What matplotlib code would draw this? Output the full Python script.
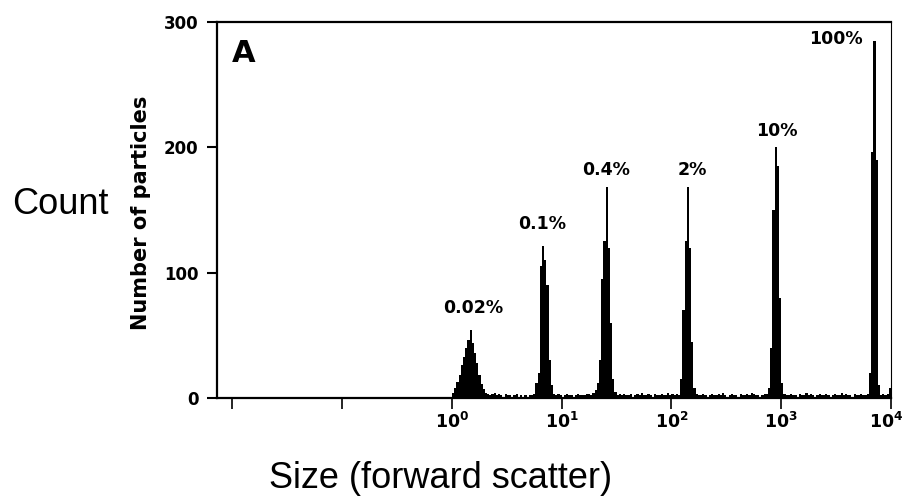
# plot.py
# Histograma de tamaño (forward scatter) de mezclas de partículas
# Salida: out.png (906x500)

import numpy as np
import matplotlib
matplotlib.use('Agg')
import matplotlib.pyplot as plt
import matplotlib.transforms as mtransforms
from matplotlib.ticker import NullLocator


# Canales logarítmicos: 200 canales entre 10^0 y 10^4
CANALES_LOG_MIN = 0
CANALES_LOG_MAX = 4
N_CANALES = 200

# Cuentas por canal
cuentas = (
    # pico 0.02%
    [4, 8, 13, 18, 26, 33, 40, 46, 54, 44, 36, 28, 18, 11, 7, 4]
    + [3, 2, 3, 4, 2, 3, 2, 1, 3, 2, 2, 1, 2, 3, 1, 2, 1, 2, 1, 2, 2, 3]
    # pico 0.1%
    + [12, 20, 105, 121, 110, 90, 30, 10, 3]
    + [2, 3, 2, 1, 2, 3, 2, 2, 1, 2, 3, 2, 2]
    # pico 0.4%
    + [2, 3, 3, 2, 4, 6, 12, 30, 95, 125, 168, 120, 60, 15, 5]
    + [2, 3, 2, 3, 2, 2, 3, 1, 2, 3, 2, 4, 2, 2, 3, 2, 1, 3, 2, 2,
       3, 2, 2, 4, 2, 3, 2, 3, 2]
    # pico 2%
    + [15, 70, 125, 168, 120, 45, 8]
    + [3, 2, 2, 3, 2, 1, 2, 3, 2, 2, 3, 2, 4, 2, 1, 2, 3, 2, 2, 1,
       3, 2, 2, 3, 2, 4, 3, 2, 2, 1, 2, 3, 3]
    # pico 10%
    + [8, 40, 150, 200, 185, 80, 12]
    + [3, 2, 2, 3, 2, 2, 1, 3, 2, 2, 4, 2, 3, 2, 1, 2, 3, 2, 2, 3,
       2, 1, 2, 3, 2, 2, 4, 2, 3, 2, 2, 1, 3, 2, 2, 3, 2, 2, 3]
    # pico 100%
    + [20, 196, 285, 190, 10]
    + [2, 3, 2, 3, 8]
)

etiquetas_picos = ['0.02%', '0.1%', '0.4%', '2%', '10%', '100%']

y_ticks = [0, 100, 200, 300]
x_ticks = [1e-2, 1e-1, 1e0, 1e1, 1e2, 1e3, 1e4]
x_ticklabels = ['', '', r'$\mathbf{10^{0}}$', r'$\mathbf{10^{1}}$',
                r'$\mathbf{10^{2}}$', r'$\mathbf{10^{3}}$', r'$\mathbf{10^{4}}$']

# desplazamiento (px) de cada etiqueta respecto al tope del pico
OFFSETS = [(3, 22), (-1, 22), (-1, 17), (4, 17), (1, 16), (-39, 2)]

FUENTE_INT = 'DejaVu Sans'
FUENTE_EXT = 'Liberation Sans'


def dibujar(salida='out.png'):
    fig = plt.figure(figsize=(9.06, 5), dpi=100)
    fig.patch.set_facecolor('white')
    ax = fig.add_axes([217 / 906, 1 - 398 / 500, (891 - 217) / 906, (398 - 22) / 500])

    bordes = np.logspace(CANALES_LOG_MIN, CANALES_LOG_MAX, N_CANALES + 1)
    c = np.array(cuentas)
    ax.stairs(c, bordes, fill=True, color='black', linewidth=0.8, zorder=2)

    ax.set_xscale('log')
    ax.set_xlim(10 ** -2.141, 1e4)
    ax.set_ylim(0, 300)
    ax.xaxis.set_minor_locator(NullLocator())
    ax.set_xticks(x_ticks)
    ax.set_xticklabels(x_ticklabels)
    ax.set_yticks(y_ticks)

    ax.tick_params(axis='y', direction='out', length=7.2, width=1.5, pad=6,
                   labelsize=12)
    ax.tick_params(axis='x', direction='out', length=8, width=1.2, pad=2,
                   labelsize=12.5)
    for lab in ax.get_yticklabels():
        lab.set_fontfamily(FUENTE_INT)
        lab.set_fontweight('bold')

    # la última etiqueta (10^4) queda pegada al borde: correrla un poco
    ultima = ax.get_xticklabels()[-1]
    ultima.set_transform(ultima.get_transform()
                         + mtransforms.ScaledTranslation(-5 / 100, 0, fig.dpi_scale_trans))

    for lado in ['left', 'bottom', 'top']:
        ax.spines[lado].set_linewidth(1.6)
    ax.spines['right'].set_linewidth(0.8)

    # Etiquetas de los picos: máximos locales de la serie
    picos = [i for i in range(1, len(c) - 1)
             if c[i] >= 40 and c[i] >= c[i - 1] and c[i] >= c[i + 1]]
    centros = np.sqrt(bordes[:-1] * bordes[1:])
    for texto, i, (dx, dy) in zip(etiquetas_picos, picos, OFFSETS):
        ax.annotate(texto, xy=(centros[i], c[i]), xytext=(dx, dy),
                    textcoords='offset pixels', ha='center', va='center',
                    fontsize=12.5, fontweight='bold', family=FUENTE_INT)

    ax.text(0.039, 0.915, 'A', transform=ax.transAxes,
            ha='center', va='center', fontsize=22, fontweight='bold',
            family=FUENTE_INT)

    fig.text(141 / 906, 1 - 213 / 500, 'Number of particles', rotation=90,
             ha='center', va='center', fontsize=15, fontweight='bold',
             family=FUENTE_INT)

    # Rótulos externos
    fig.text(60 / 906, 1 - 205 / 500, 'Count', ha='center', va='center',
             fontsize=26, family=FUENTE_EXT)
    fig.text(441 / 906, 1 - 479 / 500, 'Size (forward scatter)',
             ha='center', va='center', fontsize=26, family=FUENTE_EXT)

    fig.savefig(salida, dpi=100)
    plt.close(fig)


if __name__ == '__main__':
    dibujar()
